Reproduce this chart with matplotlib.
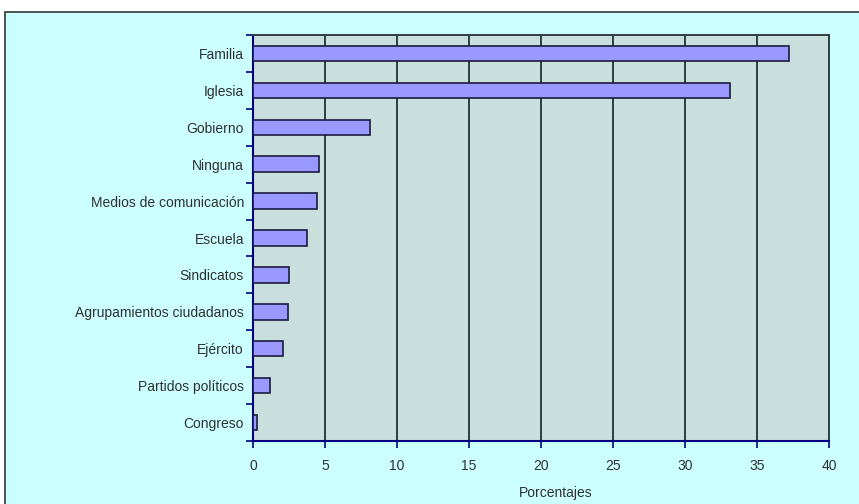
import matplotlib.pyplot as plt
import matplotlib.patches as mpatches
import numpy as np

categorias = ['Familia', 'Iglesia', 'Gobierno', 'Ninguna', 'Medios de comunicación',
              'Escuela', 'Sindicatos', 'Agrupamientos ciudadanos', 'Ejército',
              'Partidos políticos', 'Congreso']
porcentajes = [37.2, 33.1, 8.1, 4.6, 4.45, 3.75, 2.5, 2.4, 2.05, 1.2, 0.3]
x_ticks = [0, 5, 10, 15, 20, 25, 30, 35, 40]

FontSize = 10
TextColor = '#303030'
plt.rcParams['font.family'] = ['Liberation Sans', 'DejaVu Sans']

fig = plt.figure(figsize=(8.59, 5.04), dpi=100)
fig.patch.set_facecolor('white')
# fondo cian del area del grafico
fondo = mpatches.Rectangle((5/859, -0.01), 1, 1.01 - 12/504, transform=fig.transFigure,
                           facecolor='#CCFFFF', edgecolor='#333333', linewidth=1.2, zorder=-10)
fig.add_artist(fondo)

ax = fig.add_axes([253/859, 1 - 441/504, (829-253)/859, (441-35)/504])
ax.set_zorder(1)
ax.set_facecolor('#C8DFDD')

n = len(categorias)
y = np.arange(n)[::-1]
ax.barh(y, porcentajes, height=0.42, color='#9999FF', edgecolor='#1A1A40', linewidth=1.2, zorder=3)

ax.set_xlim(0, 40)
ax.set_ylim(-0.5, n - 0.5)
ax.set_xticks(x_ticks)
ax.set_xticklabels([str(t) for t in x_ticks], fontsize=FontSize, color=TextColor)
ax.set_yticks(y)
ax.set_yticklabels(categorias, fontsize=FontSize, color=TextColor)
ax.set_yticks(np.arange(n + 1) - 0.5, minor=True)
ax.tick_params(axis='y', which='major', length=0, pad=6.5)
ax.tick_params(axis='y', which='minor', length=5, width=1.2, color='#000080', direction='out')
ax.tick_params(axis='x', length=5, width=1.2, color='#000080', direction='out', pad=8)

ax.grid(axis='x', color='#2F3F3F', linewidth=1.4, zorder=1)
ax.set_axisbelow(True)
for s in ['left', 'bottom']:
    ax.spines[s].set_color('#000080')
    ax.spines[s].set_linewidth(1.5)
for s in ['top', 'right']:
    ax.spines[s].set_color('#2F3F3F')
    ax.spines[s].set_linewidth(1.4)

ax.set_xlabel('Porcentajes', fontsize=FontSize, color=TextColor)
ax.xaxis.set_label_coords(0.526, -0.11)

plt.savefig('out.png', dpi=100)
